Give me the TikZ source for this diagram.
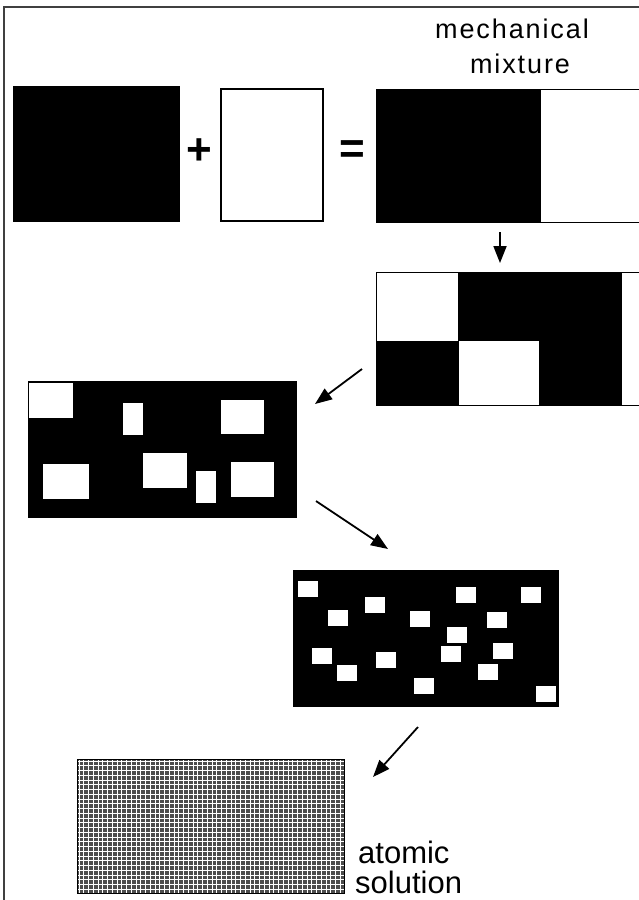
\documentclass[tikz,border=0pt]{standalone}
\usepackage{fontspec}
\setmainfont{Liberation Sans}
\newfontfamily\spacedfont[LetterSpace=7]{Liberation Sans}
\usetikzlibrary{arrows.meta}
\begin{document}
\begin{tikzpicture}[x=1pt,y=-1pt,
  blk/.style={draw=black, fill=black, line width=0.8pt},
  wht/.style={draw=black, fill=white, line width=1.2pt},
  hole/.style={fill=white, draw=none},
  box/.style={rectangle, inner sep=0pt, outer sep=0pt, anchor=north west},
  arr/.style={line width=1.8pt, -{Triangle[length=17pt,width=13pt]}},
  lbl/.style={inner sep=0pt, anchor=base},
  sym/.style={inner sep=0pt, font=\bfseries\fontsize{44}{44}\selectfont}]
\useasboundingbox (0,0) rectangle (639,900);
\clip (0,0) rectangle (639,900);
% frame
\draw[line width=1.5pt, black!75] (4,905) -- (4,7) -- (645,7);
% top row
\node[box, blk, minimum width=166, minimum height=135] (A) at (13,86) {};
\node[sym] (plus) at (199,152) {+};
\node[box, wht, minimum width=102, minimum height=132] (B) at (221,89) {};
\node[sym] (eq) at (352,152) {=};
\node[box, wht, line width=0.8pt, minimum width=274, minimum height=133] (C) at (376,89) {};
\fill[black] (376,89) rectangle (541,222);
\node[lbl, font=\spacedfont\fontsize{27}{27}\selectfont] (mech) at (512,38) {mechanical};
\node[lbl, font=\spacedfont\fontsize{27}{27}\selectfont] (mix) at (520,73) {mixture};
% layered block
\node[box, wht, line width=0.8pt, minimum width=274, minimum height=133] (D) at (376,272) {};
\fill[black] (458,272) rectangle (622,341);
\fill[black] (376,341) rectangle (459,405);
\fill[black] (539,341) rectangle (622,405);
\draw[line width=0.8pt] (376,272) rectangle (650,405);
% coarse particles
\node[box, blk, minimum width=268, minimum height=136] (E) at (28,381) {};
\fill[hole] (29,383) rectangle (73,418);
\fill[hole] (123,403) rectangle (143,435);
\fill[hole] (221,400) rectangle (264,434);
\fill[hole] (43,464) rectangle (89,499);
\fill[hole] (143,453) rectangle (187,488);
\fill[hole] (196,471) rectangle (216,503);
\fill[hole] (231,462) rectangle (274,497);
% fine particles
\node[box, blk, minimum width=265, minimum height=136] (F) at (293,570) {};
\foreach \x/\y in {298/581,328/610,365/597,410/611,456/587,521/587,487/612,447/627,
                   312/648,376/652,337/665,441/646,493/643,478/664,414/678,536/686}
  \fill[hole] (\x,\y) rectangle ++(19.5,15.5);
% atomic solution
\node[box, draw=black, line width=1pt, fill=black!70, minimum width=267, minimum height=134] (G) at (77,759) {};
\begin{scope}
  \clip (77,759) rectangle (344,893);
  \foreach \i in {0,...,56} \draw[white, line width=0.7pt] (79+4.75*\i,759) -- ++(0,134);
  \foreach \j in {0,...,28} \draw[white, line width=0.7pt] (77,761+4.75*\j) -- ++(267,0);
\end{scope}
\draw[line width=1pt] (77,759) rectangle (344,893);
\node[lbl, anchor=base west, font=\fontsize{31}{31}\selectfont] (atom) at (358,863) {atomic};
\node[lbl, anchor=base west, font=\fontsize{31}{31}\selectfont] (sol) at (355,893) {solution};
% arrows
\coordinate (a1s) at (500,232); \coordinate (a1e) at (500,263);
\coordinate (a2s) at (362,369); \coordinate (a2e) at (315,404);
\coordinate (a3s) at (316,501); \coordinate (a3e) at (388,549);
\coordinate (a4s) at (418,727); \coordinate (a4e) at (373,777);
\draw[arr] (a1s) -- (a1e);
\draw[arr] (a2s) -- (a2e);
\draw[arr] (a3s) -- (a3e);
\draw[arr] (a4s) -- (a4e);
\end{tikzpicture}
\end{document}
